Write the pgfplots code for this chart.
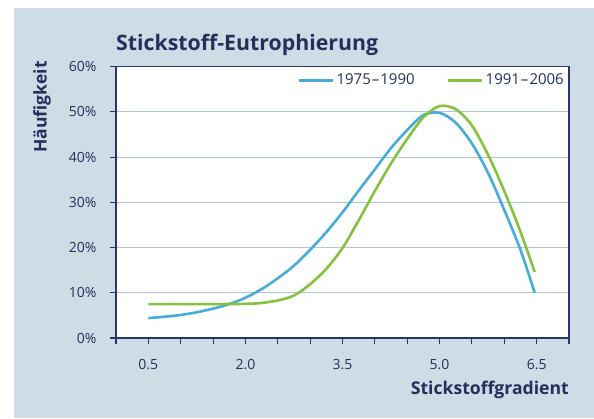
\documentclass[border=0pt]{standalone}
\usepackage{pgfplots}
\pgfplotsset{compat=1.18}
\usepackage{fontspec}
\setmainfont{Open Sans}
\definecolor{bgcol}{HTML}{CFDCE5}
\definecolor{navy}{HTML}{23305C}
\definecolor{axnavy}{HTML}{2A3766}
\definecolor{gridc}{HTML}{B0C4D6}
\definecolor{cblue}{HTML}{48ACDB}
\definecolor{cgreen}{HTML}{86C23E}
\begin{document}
\begin{tikzpicture}
\useasboundingbox (-116pt,-80pt) rectangle (478pt,338pt);
\fill[bgcol] (-102pt,-80pt) rectangle (478pt,330pt);
\begin{axis}[
  at={(0pt,0pt)}, anchor=south west,
  scale only axis, width=453pt, height=271.3pt,
  xmin=0, xmax=7, ymin=0, ymax=60,
  axis background/.style={fill=white},
  axis line style={axnavy, line width=1.1pt},
  xtick={0.5,2,3.5,5,6.5},
  xticklabels={0.5,2.0,3.5,5.0,6.5},
  minor xtick={0,1,1.5,2.5,3,4,4.5,5.5,6,7},
  ytick={0,10,20,30,40,50,60},
  yticklabel={\pgfmathprintnumber{\tick}\%},
  xtick pos=bottom, ytick pos=left,
  tick align=outside,
  major tick length=6pt, minor tick length=6pt,
  every tick/.style={axnavy, line width=1.1pt},
  minor tick style={axnavy, line width=1.1pt},
  ymajorgrids,
  grid style={gridc, line width=1pt},
  /pgf/number format/assume math mode=true,
  ticklabel style={font=\fontsize{14}{16}\selectfont, text=navy},
  xticklabel style={yshift=-12pt},
  yticklabel style={xshift=-10pt},
  legend columns=2,
  legend style={at={(rel axis cs:1,1)}, anchor=north east, xshift=0pt, yshift=-3pt,
    draw=none, fill=none,
    font=\fontsize{15}{17}\selectfont, text=navy,
    /tikz/every even column/.append style={column sep=30pt}},
  legend image code/.code={\draw[#1, line width=3pt] (-3pt,0pt) -- (31pt,0pt);},
]
\addplot[cblue, line width=2.6pt, smooth] coordinates {
(0.5,4.4) (0.75,4.7) (1.0,5.1) (1.25,5.7) (1.5,6.5) (1.75,7.5) (2.0,8.9)
(2.25,10.8) (2.5,13.2) (2.75,16.0) (3.0,19.5) (3.25,23.4) (3.5,27.8)
(3.75,32.6) (4.0,37.3) (4.25,42.0) (4.5,46.0) (4.75,49.3)
(5.0,49.8) (5.25,47.6) (5.5,43.0) (5.75,36.5) (6.0,28.3) (6.25,19.5) (6.47,10.0)};
\addlegendentry{1975\kern1pt–\kern1pt1990}
\addplot[cgreen, line width=2.6pt, smooth] coordinates {
(0.5,7.5) (1.0,7.5) (1.5,7.5) (2.0,7.55) (2.25,7.75) (2.5,8.3) (2.75,9.4)
(3.0,11.9) (3.25,15.3) (3.5,19.9) (3.75,26.0) (4.0,32.5) (4.25,38.6)
(4.5,44.0) (4.75,48.8) (5.0,51.3) (5.25,50.6) (5.5,47.0)
(5.75,40.5) (6.0,32.5) (6.25,23.5) (6.47,14.6)};
\addlegendentry{1991\kern1pt–\kern1pt2006}
\end{axis}
\node[anchor=base west, text=navy, font=\bfseries\fontsize{21.3}{24}\selectfont, inner sep=0pt] at (0pt,287pt) {Stickstoff-Eutrophierung};
\node[anchor=base, rotate=90, text=navy, font=\bfseries\fontsize{17.5}{20}\selectfont, inner sep=0pt] at (-69.3pt,231pt) {Häufigkeit};
\node[anchor=base east, text=navy, font=\bfseries\fontsize{17.6}{20}\selectfont, inner sep=0pt] at (453pt,-56.3pt) {Stickstoffgradient};
\end{tikzpicture}
\end{document}
